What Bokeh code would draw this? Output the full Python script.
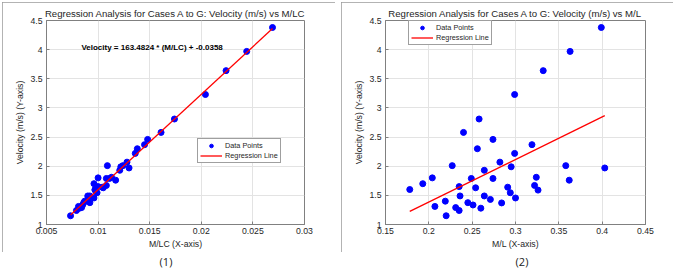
import numpy as np
from bokeh.plotting import figure
from bokeh.models import FixedTicker, Label, Legend, LegendItem, Div
from bokeh.layouts import row, column
from bokeh.embed import file_html
from bokeh.resources import INLINE

# Measured velocity (m/s) for cases A to G
velocity = [1.15, 1.24, 1.28, 1.29, 1.31, 1.335, 1.37, 1.375, 1.40, 1.43,
            1.455, 1.49, 1.49, 1.545, 1.59, 1.60, 1.63, 1.64, 1.65, 1.67,
            1.70, 1.76, 1.79, 1.79, 1.80, 1.81, 1.93, 1.97, 1.99, 2.01,
            2.01, 2.07, 2.22, 2.30, 2.37, 2.46, 2.58, 2.81, 3.23, 3.64,
            3.97, 4.38]

# Ratio M/LC for each case
m_lc = [0.00733, 0.0079, 0.0082, 0.0084, 0.0081, 0.0085, 0.0086, 0.0092, 0.0087, 0.0090,
        0.0096, 0.0090, 0.0092, 0.0099, 0.0097, 0.0097, 0.0105, 0.0104, 0.0100, 0.0108,
        0.0096, 0.0117, 0.0108, 0.0111, 0.0100, 0.0113, 0.0121, 0.0130, 0.0122, 0.0109,
        0.0124, 0.0128, 0.0136, 0.0138, 0.0145, 0.0148, 0.0161, 0.0174, 0.0204, 0.0224,
        0.0244, 0.0269]

# Ratio M/L for each case
m_l = [0.220, 0.235, 0.260, 0.231, 0.207, 0.251, 0.284, 0.245, 0.219, 0.271,
       0.300, 0.236, 0.264, 0.294, 0.326, 0.178, 0.254, 0.291, 0.235, 0.322,
       0.193, 0.362, 0.249, 0.274, 0.204, 0.324, 0.264, 0.403, 0.295, 0.227,
       0.358, 0.282, 0.299, 0.256, 0.319, 0.274, 0.240, 0.258, 0.299, 0.332,
       0.363, 0.399]

# Fitted coefficients for Velocity vs M/LC
slope_lc = 163.4824
intercept_lc = -0.0358

x1_ticks = [0.005, 0.01, 0.015, 0.02, 0.025, 0.03]
x1_labels = ["0.005", "0.01", "0.015", "0.02", "0.025", "0.03"]
x2_ticks = [0.15, 0.2, 0.25, 0.3, 0.35, 0.4, 0.45]
x2_labels = ["0.15", "0.2", "0.25", "0.3", "0.35", "0.4", "0.45"]
y_ticks = [1, 1.5, 2, 2.5, 3, 3.5, 4, 4.5]
y_labels = ["1", "1.5", "2", "2.5", "3", "3.5", "4", "4.5"]

FONT = "Liberation Sans"
TXT = "#262626"
AX = "#808080"


def make_panel(title, x_range, xt, xl, xlabel, mbl, mbr):
    p = figure(width=333 if mbr > 30 else 332, height=250, x_range=x_range, y_range=(1, 4.5),
               output_backend="svg", toolbar_location=None,
               min_border_left=mbl, min_border_right=mbr,
               min_border_top=18, min_border_bottom=28)
    p.title.text = title
    p.title.align = "center"
    p.title.text_font = FONT
    p.title.text_font_size = "9.6px"
    p.title.text_font_style = "normal"
    p.title.text_color = TXT
    p.title.standoff = 3
    p.outline_line_color = AX
    p.outline_line_width = 1
    p.styles = {"outline": "1px solid #9a9a9a", "outline-offset": "-1px"}

    for ax, ticks, labels, lab in ((p.xaxis[0], xt, xl, xlabel),
                                    (p.yaxis[0], y_ticks, y_labels, "Velocity (m/s) (Y-axis)")):
        ax.ticker = FixedTicker(ticks=ticks)
        ax.major_label_overrides = {t: s for t, s in zip(ticks, labels)}
        ax.minor_tick_line_color = None
        ax.major_tick_in = 3
        ax.major_tick_out = 0
        ax.major_tick_line_color = AX
        ax.axis_line_color = AX
        ax.major_label_text_font = FONT
        ax.major_label_text_font_size = "8.7px"
        ax.major_label_text_color = TXT
        ax.axis_label = lab
        ax.axis_label_text_font = FONT
        ax.axis_label_text_font_size = "8.7px"
        ax.axis_label_text_font_style = "normal"
        ax.axis_label_text_color = TXT
    p.xaxis.major_label_standoff = 3
    p.xaxis.axis_label_standoff = 2
    p.yaxis.major_label_standoff = 4
    p.yaxis.axis_label_standoff = 2
    p.grid.grid_line_color = "#e3e3e3"
    p.grid.grid_line_width = 1
    return p


def add_legend(p, sc, ln, loc):
    leg = Legend(items=[LegendItem(label="Data Points", renderers=[sc]),
                        LegendItem(label="Regression Line", renderers=[ln])],
                 location=loc, label_text_font=FONT, label_text_font_size="7.3px",
                 label_text_color=TXT, glyph_width=22, glyph_height=9,
                 label_height=9, label_standoff=3, spacing=1, padding=2, margin=0,
                 border_line_color="#404040", border_line_width=1,
                 background_fill_alpha=1)
    p.add_layout(leg)


# Panel 1: Velocity vs M/LC
p1 = make_panel("Regression Analysis for Cases A to G: Velocity (m/s) vs M/LC",
                (0.005, 0.03), x1_ticks, x1_labels, "M/LC (X-axis)", 44, 31)
xs1 = np.array([min(m_lc), max(m_lc)])
ln1 = p1.line(xs1, slope_lc * xs1 + intercept_lc, line_color="#ff0000", line_width=1.3)
sc1 = p1.scatter(m_lc, velocity, size=6, fill_color="#0000ff", line_color="#0000ff")
p1.renderers.remove(ln1)
p1.renderers.append(ln1)
add_legend(p1, sc1, ln1, (151, 61))
p1.add_layout(Label(x=0.00838, y=4.04,
                    text=f"Velocity = {slope_lc:.4f} * (M/LC) + {intercept_lc:.4f}",
                    text_font=FONT, text_font_size="8px", text_font_style="bold",
                    text_color="#000000", text_baseline="middle"))

# Panel 2: Velocity vs M/L with least-squares line
p2 = make_panel("Regression Analysis for Cases A to G: Velocity (m/s) vs M/L",
                (0.15, 0.45), x2_ticks, x2_labels, "M/L (X-axis)", 44, 28)
k2, b2 = np.polyfit(m_l, velocity, 1)
xs2 = np.array([min(m_l), max(m_l)])
sc2 = p2.scatter(m_l, velocity, size=6, fill_color="#0000ff", line_color="#0000ff")
ln2 = p2.line(xs2, k2 * xs2 + b2, line_color="#ff0000", line_width=1.3)
add_legend(p2, sc2, ln2, (23, 179))

p1.margin = (2, 0, 0, 2)
p2.margin = (2, 0, 0, 6)

cap_style = {"font-family": "Open Sans", "font-size": "11px", "color": "#222222",
             "text-align": "center", "line-height": "14px"}
cap1 = Div(text="(1)", width=40, height=14, styles=cap_style, margin=(3, 0, 0, 146))
cap2 = Div(text="(2)", width=40, height=14, styles=cap_style, margin=(3, 0, 0, 167))

layout = row(column(p1, cap1), column(p2, cap2))
layout.margin = 0

open("out.html", "w").write(file_html(layout, INLINE))
